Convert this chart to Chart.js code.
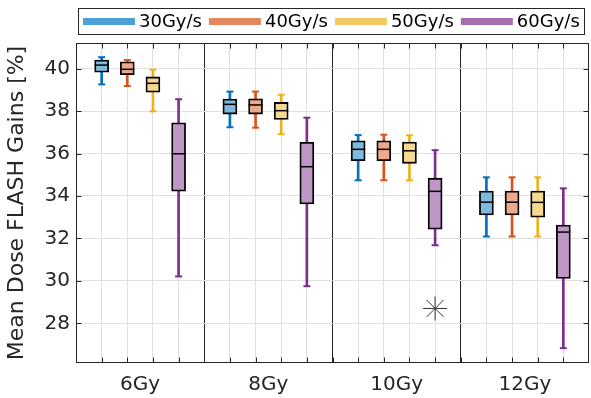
<!DOCTYPE html>
<html>
<head>
<meta charset="utf-8">
<script src="https://cdn.jsdelivr.net/npm/chart.js@4.4.0/dist/chart.umd.min.js"></script>
<style>
  html, body { margin: 0; padding: 0; background: #fff; }
  #chart { display: block; }
</style>
</head>
<body>
<canvas id="chart" width="591" height="398"></canvas>
<script>
// groups on the x axis and the dose rates inside each group
const doses = ['6Gy', '8Gy', '10Gy', '12Gy'];
const rates = ['30Gy/s', '40Gy/s', '50Gy/s', '60Gy/s'];
const yTicks = [28, 30, 32, 34, 36, 38, 40];

// [lower whisker, q1, median, q3, upper whisker] for each dose
const stats30 = [
    [39.26, 39.83, 40.17, 40.41, 40.54],
    [37.24, 37.86, 38.32, 38.57, 38.92],
    [34.74, 35.66, 36.20, 36.60, 36.87],
    [32.09, 33.11, 33.71, 34.23, 34.88]
];
const stats40 = [
    [39.18, 39.72, 39.97, 40.32, 40.41],
    [37.22, 37.86, 38.29, 38.58, 38.92],
    [34.74, 35.66, 36.20, 36.60, 36.89],
    [32.09, 33.11, 33.71, 34.23, 34.88]
];
const stats50 = [
    [37.99, 38.89, 39.31, 39.61, 39.95],
    [36.91, 37.61, 38.02, 38.41, 38.77],
    [34.74, 35.54, 36.13, 36.54, 36.86],
    [32.09, 33.00, 33.70, 34.23, 34.88]
];
const stats60 = [
    [30.21, 34.23, 35.99, 37.45, 38.56],
    [29.75, 33.63, 35.38, 36.53, 37.69],
    [31.68, 32.44, 34.22, 34.84, 36.16],
    [26.83, 30.11, 32.30, 32.63, 34.36]
];
const outliers60 = [null, null, 28.70, null];

const allStats = [stats30, stats40, stats50, stats60];

const lineColors = ['#0072BD', '#D95319', '#EDB120', '#7E2F8E'];
const fillColors = ['#80B9DE', '#ECA98C', '#F6D890', '#BF97C7'];
const legendColors = ['#4DA0D5', '#E4875E', '#F2C863', '#A56DB0'];

const GROUP = rates.length + 1;
const xPos = (g, s) => g * GROUP + s + 1;

Chart.defaults.font.family = "'DejaVu Sans', sans-serif";
Chart.defaults.color = '#262626';

const datasets = [];
allStats.forEach((stats, s) => {
    const whiskers = [];
    const boxes = [];
    stats.forEach((st, g) => {
        whiskers.push({ x: xPos(g, s), y: [st[0], st[1]] });
        whiskers.push({ x: xPos(g, s), y: [st[3], st[4]] });
        boxes.push({ x: xPos(g, s), y: [st[1], st[3]] });
    });
    datasets.push({
        type: 'bar',
        label: rates[s] + ' whisker',
        data: whiskers,
        backgroundColor: lineColors[s],
        borderWidth: 0,
        barThickness: 2,
        grouped: false,
        order: 3
    });
    datasets.push({
        type: 'bar',
        label: rates[s],
        data: boxes,
        backgroundColor: fillColors[s],
        borderColor: '#000000',
        borderWidth: 1.8,
        borderSkipped: false,
        barThickness: 14,
        grouped: false,
        order: 2
    });
});

datasets.push({
    type: 'scatter',
    label: 'outliers',
    data: outliers60
        .map((v, g) => v === null ? null : { x: xPos(g, 3), y: v })
        .filter(p => p),
    pointStyle: 'star',
    radius: 12,
    borderColor: '#333333',
    borderWidth: 1,
    backgroundColor: 'rgba(0,0,0,0)',
    order: 1
});

// tick values along x: every box position, the separators and the group centres
const xTickValues = [];
for (let v = 1; v < doses.length * GROUP; v++) xTickValues.push(v);
doses.forEach((d, g) => xTickValues.push(g * GROUP + (rates.length + 1) / 2));
xTickValues.sort((a, b) => a - b);

const extras = {
    id: 'boxExtras',
    afterDatasetsDraw(chart) {
        const { ctx, scales: { x, y } } = chart;
        ctx.save();
        allStats.forEach((stats, s) => {
            stats.forEach((st, g) => {
                const px = x.getPixelForValue(xPos(g, s));
                ctx.strokeStyle = lineColors[s];
                ctx.lineWidth = 2;
                [st[0], st[4]].forEach(v => {
                    const py = y.getPixelForValue(v);
                    ctx.beginPath();
                    ctx.moveTo(px - 3.5, py);
                    ctx.lineTo(px + 3.5, py);
                    ctx.stroke();
                });
                const pm = y.getPixelForValue(st[2]);
                ctx.strokeStyle = '#000000';
                ctx.lineWidth = 1.5;
                ctx.beginPath();
                ctx.moveTo(px - 7, pm);
                ctx.lineTo(px + 7, pm);
                ctx.stroke();
            });
        });
        ctx.restore();
    },
    afterDraw(chart) {
        const { ctx, scales: { x, y } } = chart;
        ctx.save();
        ctx.strokeStyle = '#262626';
        ctx.lineWidth = 1;
        // frame, following the scales
        const fl = Math.round(x.left) + 0.5, fr = Math.round(x.right) - 0.5;
        const ft = Math.round(y.top) + 0.5, fb = Math.round(y.bottom) - 0.5;
        ctx.strokeRect(fl, ft, fr - fl, fb - ft);
        // inward tick marks on all four sides
        ctx.beginPath();
        x.ticks.forEach(t => {
            if (t.value % 1 !== 0) return;
            const px = Math.round(x.getPixelForValue(t.value)) + 0.5;
            ctx.moveTo(px, fb);
            ctx.lineTo(px, fb - 5);
            ctx.moveTo(px, ft);
            ctx.lineTo(px, ft + 5);
        });
        y.ticks.forEach(t => {
            const py = Math.round(y.getPixelForValue(t.value)) + 0.5;
            ctx.moveTo(fl, py);
            ctx.lineTo(fl + 5, py);
            ctx.moveTo(fr, py);
            ctx.lineTo(fr - 5, py);
        });
        ctx.stroke();

        // legend box
        const lx = 78.5, ly = 8.5, lw = 506, lh = 26;
        ctx.fillStyle = '#ffffff';
        ctx.fillRect(lx, ly, lw, lh);
        ctx.strokeRect(lx, ly, lw, lh);
        ctx.font = "18px 'DejaVu Sans'";
        ctx.textBaseline = 'middle';
        ctx.textAlign = 'left';
        let cx = 83;
        const cy = 21.5;
        rates.forEach((r, i) => {
            ctx.strokeStyle = legendColors[i];
            ctx.lineWidth = 7;
            ctx.beginPath();
            ctx.moveTo(cx, cy);
            ctx.lineTo(cx + 52, cy);
            ctx.stroke();
            ctx.fillStyle = '#000000';
            ctx.fillText(r, cx + 56, cy + 1);
            cx += 56 + ctx.measureText(r).width + 7;
        });
        ctx.restore();
    }
};

new Chart(document.getElementById('chart'), {
    type: 'bar',
    data: { datasets },
    options: {
        responsive: false,
        animation: false,
        devicePixelRatio: 1,
        layout: {
            autoPadding: false,
            padding: { top: 43, right: 2, left: 0, bottom: 0 }
        },
        plugins: {
            legend: { display: false },
            tooltip: { enabled: false }
        },
        scales: {
            x: {
                type: 'linear',
                offset: false,
                min: 0,
                max: doses.length * GROUP,
                afterBuildTicks: (scale) => {
                    scale.ticks = xTickValues.map(v => ({ value: v }));
                },
                afterFit: (scale) => {
                    scale.height = 35;
                    scale.paddingLeft = 0;
                    scale.paddingRight = 0;
                },
                border: { display: false },
                grid: {
                    offset: false,
                    drawTicks: false,
                    color: (c) => {
                        const v = c.tick ? c.tick.value : 0;
                        if (v % 1 !== 0) return 'rgba(0,0,0,0)';
                        if (v % GROUP === 0) return '#262626';
                        return '#e0e0e0';
                    }
                },
                ticks: {
                    autoSkip: false,
                    maxRotation: 0,
                    minRotation: 0,
                    padding: 10,
                    font: { size: 20 },
                    color: '#262626',
                    callback: (value) => {
                        const g = (value - (rates.length + 1) / 2) / GROUP;
                        return Number.isInteger(g) ? doses[g] : '';
                    }
                }
            },
            y: {
                min: 26.13,
                max: 41.21,
                afterBuildTicks: (scale) => {
                    scale.ticks = yTicks.map(v => ({ value: v }));
                },
                afterFit: (scale) => { scale.width = 76; },
                border: { display: false },
                grid: { drawTicks: false, color: '#e0e0e0' },
                ticks: {
                    padding: 6,
                    font: { size: 20 },
                    color: '#262626'
                },
                title: {
                    display: true,
                    text: 'Mean Dose FLASH Gains [%]',
                    font: { size: 22 },
                    color: '#262626',
                    padding: { top: 4, bottom: 0 }
                }
            }
        }
    },
    plugins: [extras]
});
</script>
</body>
</html>
